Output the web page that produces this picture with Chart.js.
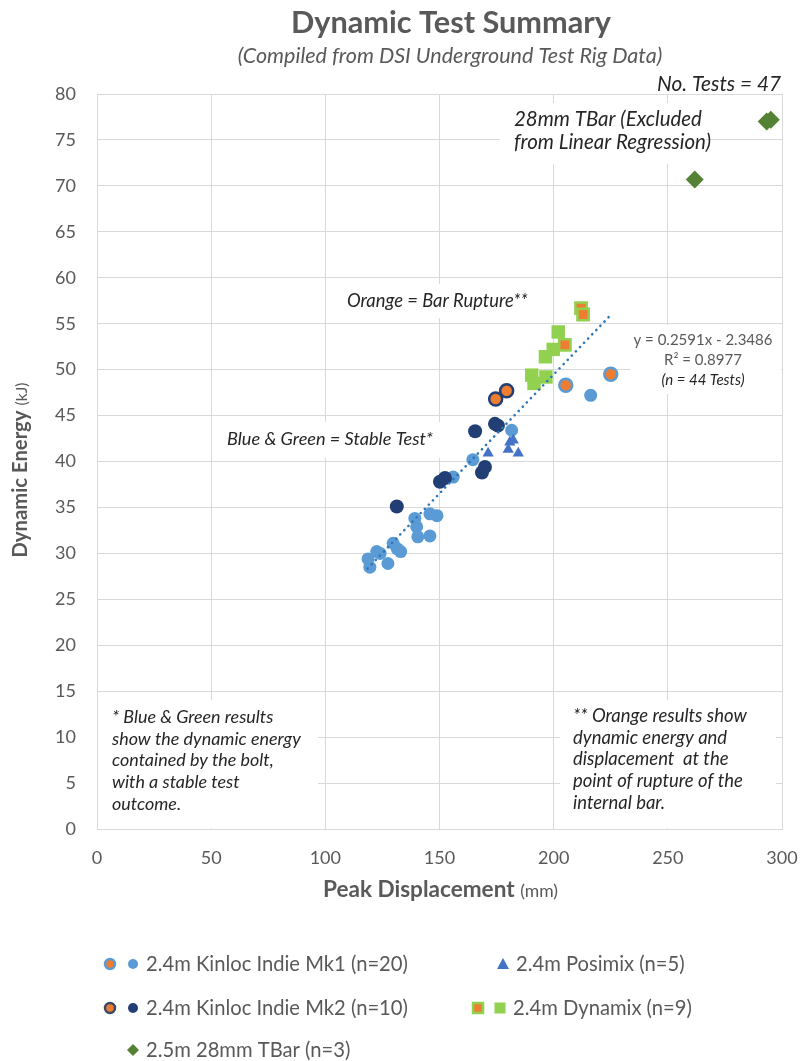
<!DOCTYPE html>
<html>
<head>
<meta charset="utf-8">
<script src="https://cdn.jsdelivr.net/npm/chart.js@4.4.1/dist/chart.umd.min.js"></script>
<style>
html, body { margin: 0; padding: 0; background: #fff; }
</style>
</head>
<body>
<canvas id="chartCanvas" width="802" height="1061"></canvas>
<script>
const FONT = 'Lato, "Open Sans", sans-serif';

// 2.4m Kinloc Indie Mk1 - stable
const mk1X = [118.7, 119.5, 122.5, 124, 127.4, 129.7, 131.5, 133, 139.2, 140, 140.5, 145.8, 145.8, 148.9, 156, 164.6, 181.6, 216.2];
const mk1Y = [29.4, 28.5, 30.2, 30.0, 28.9, 31.1, 30.5, 30.2, 33.8, 32.9, 31.8, 34.3, 31.9, 34.1, 38.3, 40.2, 43.4, 47.2];
// Mk1 - bar rupture
const mk1RupX = [205.3, 225];
const mk1RupY = [48.3, 49.5];
// 2.4m Kinloc Indie Mk2 - stable
const mk2X = [131.3, 150.2, 152.4, 168.6, 169.9, 165.6, 174.3, 175.6];
const mk2Y = [35.1, 37.8, 38.2, 38.8, 39.4, 43.3, 44.1, 43.9];
// Mk2 - bar rupture
const mk2RupX = [174.6, 179.4];
const mk2RupY = [46.8, 47.7];
// 2.4m Posimix
const posX = [171.3, 180.1, 180.8, 182.3, 184.5];
const posY = [40.9, 41.3, 42.1, 42.3, 40.9];
// 2.4m Dynamix - stable
const dynX = [202, 199.8, 196.4, 190.4, 191.4, 196.6];
const dynY = [54.1, 52.2, 51.4, 49.4, 48.5, 49.2];
// Dynamix - bar rupture
const dynRupX = [212, 212.9, 204.9];
const dynRupY = [56.7, 56.0, 52.7];
// 2.5m 28mm TBar
const tbarX = [261.8, 293.3, 295.1];
const tbarY = [70.7, 77.0, 77.2];
// linear regression line end points (y = 0.2591x - 2.3486)
const trendX = [118.5, 225];
const trendY = [28.35, 55.95];

const LIGHT = '#5B9BD5', DARK = '#213F75', ORANGE = '#ED7D31';
const TRI = '#4472C4', LIME = '#92D050', GREEN = '#548235';
const GREY = '#595959', INK = '#262626';

function pts(xs, ys) {
    return xs.map((x, i) => ({ x: x, y: ys[i] }));
}

function fontStr(style, weight, size) {
    return style + ' ' + weight + ' ' + size + 'px ' + FONT;
}

// font size that makes text span the wanted width
function fitSize(ctx, text, style, weight, width) {
    ctx.font = fontStr(style, weight, 20);
    return 20 * width / ctx.measureText(text).width;
}

function put(ctx, text, x, y, style, weight, size, color, align) {
    ctx.font = fontStr(style, weight, size);
    ctx.fillStyle = color;
    ctx.textAlign = align || 'left';
    ctx.textBaseline = 'alphabetic';
    ctx.fillText(text, x, y);
}

function box(ctx, x1, y1, x2, y2) {
    ctx.fillStyle = '#fff';
    ctx.fillRect(x1, y1, x2 - x1, y2 - y1);
}

function dot(ctx, x, y, r, fill, stroke, lw) {
    ctx.beginPath();
    ctx.arc(x, y, r, 0, Math.PI * 2);
    ctx.fillStyle = fill;
    ctx.fill();
    if (stroke) { ctx.lineWidth = lw; ctx.strokeStyle = stroke; ctx.stroke(); }
}

function square(ctx, x, y, h, fill, stroke, lw) {
    ctx.fillStyle = fill;
    ctx.fillRect(x - h, y - h, 2 * h, 2 * h);
    if (stroke) { ctx.lineWidth = lw; ctx.strokeStyle = stroke; ctx.strokeRect(x - h, y - h, 2 * h, 2 * h); }
}

function poly(ctx, coords, fill) {
    ctx.beginPath();
    ctx.moveTo(coords[0], coords[1]);
    for (let i = 2; i < coords.length; i += 2) ctx.lineTo(coords[i], coords[i + 1]);
    ctx.closePath();
    ctx.fillStyle = fill;
    ctx.fill();
}

const notes = {
    id: 'notes',
    beforeDatasetsDraw(chart) {
        const ctx = chart.ctx;
        ctx.save();
        box(ctx, 500, 103, 706, 164);
        box(ctx, 336, 284, 540, 318);
        box(ctx, 215, 422, 446, 458);
        box(ctx, 630, 325, 781, 394);
        box(ctx, 98, 700, 318, 828);
        box(ctx, 560, 700, 776, 828);

        let s = fitSize(ctx, '28mm TBar (Excluded', 'italic', 'normal', 188);
        put(ctx, '28mm TBar (Excluded', 514, 126, 'italic', 'normal', s, INK);
        put(ctx, 'from Linear Regression)', 514, 149, 'italic', 'normal', s, INK);

        s = fitSize(ctx, 'Orange = Bar Rupture**', 'italic', 'normal', 181);
        put(ctx, 'Orange = Bar Rupture**', 347, 307, 'italic', 'normal', s, INK);
        s = fitSize(ctx, 'Blue & Green = Stable Test*', 'italic', 'normal', 206);
        put(ctx, 'Blue & Green = Stable Test*', 227, 445, 'italic', 'normal', s, INK);

        s = fitSize(ctx, 'y = 0.2591x - 2.3486', 'normal', 'normal', 139);
        put(ctx, 'y = 0.2591x - 2.3486', 703, 345, 'normal', 'normal', s, GREY, 'center');
        put(ctx, 'R² = 0.8977', 703, 365, 'normal', 'normal', s, GREY, 'center');
        put(ctx, '(n = 44 Tests)', 703, 385, 'italic', 'normal', s, INK, 'center');

        const left = ['* Blue & Green results', 'show the dynamic energy', 'contained by the bolt,',
            'with a stable test', 'outcome.'];
        s = fitSize(ctx, left[1], 'italic', 'normal', 189);
        left.forEach((t, i) => put(ctx, t, 112, 723 + i * 21.7, 'italic', 'normal', s, INK));
        const right = ['** Orange results show', 'dynamic energy and', 'displacement  at the',
            'point of rupture of the', 'internal bar.'];
        s = fitSize(ctx, right[0], 'italic', 'normal', 174);
        right.forEach((t, i) => put(ctx, t, 573, 722 + i * 21.7, 'italic', 'normal', s, INK));
        ctx.restore();
    },
    afterDraw(chart) {
        const ctx = chart.ctx;
        ctx.save();
        let s = fitSize(ctx, 'Dynamic Test Summary', 'normal', 'bold', 320);
        put(ctx, 'Dynamic Test Summary', 451, 33, 'normal', 'bold', s, GREY, 'center');
        s = fitSize(ctx, '(Compiled from DSI Underground Test Rig Data)', 'italic', 'normal', 425);
        put(ctx, '(Compiled from DSI Underground Test Rig Data)', 450, 63, 'italic', 'normal', s, GREY, 'center');
        s = fitSize(ctx, 'No. Tests = 47', 'italic', 'normal', 124);
        put(ctx, 'No. Tests = 47', 781, 91, 'italic', 'normal', s, INK, 'right');

        // axis titles: bold name, smaller unit
        ctx.font = fontStr('normal', 'bold', 18);
        const w1 = ctx.measureText('Peak Displacement ').width;
        ctx.font = fontStr('normal', 'normal', 14);
        const w2 = ctx.measureText('(mm)').width;
        let k = 235 / (w1 + w2);
        put(ctx, 'Peak Displacement ', 323, 897, 'normal', 'bold', 18 * k, GREY);
        put(ctx, '(mm)', 323 + w1 * k, 897, 'normal', 'normal', 14 * k, GREY);

        ctx.font = fontStr('normal', 'bold', 18);
        const v1 = ctx.measureText('Dynamic Energy ').width;
        ctx.font = fontStr('normal', 'normal', 14);
        const v2 = ctx.measureText('(kJ)').width;
        k = 175 / (v1 + v2);
        ctx.translate(21, 470);
        ctx.rotate(-Math.PI / 2);
        put(ctx, 'Dynamic Energy ', -87.5, 6, 'normal', 'bold', 18 * k, GREY);
        put(ctx, '(kJ)', -87.5 + v1 * k, 6, 'normal', 'normal', 14 * k, GREY);
        ctx.setTransform(1, 0, 0, 1, 0, 0);

        // legend
        dot(ctx, 110, 964, 5, ORANGE, LIGHT, 2.5);
        dot(ctx, 133, 964, 5, LIGHT);
        dot(ctx, 110, 1008, 5, ORANGE, '#3A4A66', 2.5);
        dot(ctx, 133, 1008, 5, DARK);
        poly(ctx, [503, 958, 509, 969, 497, 969], TRI);
        square(ctx, 478, 1008, 5, ORANGE, LIME, 2.5);
        square(ctx, 500, 1008, 5.5, LIME);
        poly(ctx, [133, 1044, 139, 1050, 133, 1056, 127, 1050], GREEN);
        s = fitSize(ctx, '2.4m Kinloc Indie Mk1 (n=20)', 'normal', 'normal', 262);
        put(ctx, '2.4m Kinloc Indie Mk1 (n=20)', 146, 971, 'normal', 'normal', s, GREY);
        put(ctx, '2.4m Posimix (n=5)', 516, 971, 'normal', 'normal', s, GREY);
        put(ctx, '2.4m Kinloc Indie Mk2 (n=10)', 146, 1015, 'normal', 'normal', s, GREY);
        put(ctx, '2.4m Dynamix (n=9)', 513, 1015, 'normal', 'normal', s, GREY);
        put(ctx, '2.5m 28mm TBar (n=3)', 146, 1057, 'normal', 'normal', s, GREY);
        ctx.restore();
    }
};

const ctx = document.getElementById('chartCanvas').getContext('2d');

const chart = new Chart(ctx, {
    type: 'scatter',
    data: {
        datasets: [
            {
                label: 'Linear (regression)',
                data: pts(trendX, trendY),
                showLine: true,
                borderColor: '#2E75B6',
                borderWidth: 2.6,
                borderDash: [0.1, 5.8],
                borderCapStyle: 'round',
                pointRadius: 0,
                order: 0
            },
            { label: 'TBar', data: pts(tbarX, tbarY), pointStyle: 'rectRot', pointRadius: 9,
              backgroundColor: GREEN, borderColor: GREEN, borderWidth: 0, order: 1 },
            { label: 'Dynamix rupture', data: pts(dynRupX, dynRupY), pointStyle: 'rect', pointRadius: 8,
              backgroundColor: ORANGE, borderColor: LIME, borderWidth: 2.5, order: 2 },
            { label: 'Dynamix', data: pts(dynX, dynY), pointStyle: 'rect', pointRadius: 9.5,
              backgroundColor: LIME, borderColor: LIME, borderWidth: 0, order: 3 },
            { label: 'Posimix', data: pts(posX, posY), pointStyle: 'triangle', pointRadius: 6.5,
              backgroundColor: TRI, borderColor: TRI, borderWidth: 0, order: 4 },
            { label: 'Mk2 rupture', data: pts(mk2RupX, mk2RupY), pointRadius: 6.5,
              backgroundColor: ORANGE, borderColor: DARK, borderWidth: 2.5, order: 5 },
            { label: 'Mk2', data: pts(mk2X, mk2Y), pointRadius: 7,
              backgroundColor: DARK, borderColor: DARK, borderWidth: 0, order: 6 },
            { label: 'Mk1 rupture', data: pts(mk1RupX, mk1RupY), pointRadius: 6.5,
              backgroundColor: ORANGE, borderColor: LIGHT, borderWidth: 2.5, order: 7 },
            { label: 'Mk1', data: pts(mk1X, mk1Y), pointRadius: 6.5,
              backgroundColor: LIGHT, borderColor: LIGHT, borderWidth: 0, order: 8 }
        ]
    },
    options: {
        responsive: false,
        animation: false,
        devicePixelRatio: 1,
        clip: false,
        layout: { padding: { top: 94, right: 20, bottom: 172, left: 0 } },
        plugins: {
            legend: { display: false },
            tooltip: { enabled: false }
        },
        scales: {
            x: {
                type: 'linear',
                min: 0,
                max: 300,
                ticks: { stepSize: 50, color: GREY, font: { family: FONT, size: 18 }, padding: 18 },
                grid: { color: '#d9d9d9', drawTicks: false },
                border: { color: '#d9d9d9' },
                afterFit: s => { s.height = 60; s.paddingLeft = 0; s.paddingRight = 0; }
            },
            y: {
                min: 0,
                max: 80,
                ticks: { stepSize: 5, color: GREY, font: { family: FONT, size: 18 }, padding: 21 },
                grid: { color: '#d9d9d9', drawTicks: false },
                border: { color: '#d9d9d9' },
                afterFit: s => { s.width = 97; s.paddingTop = 0; s.paddingBottom = 0; }
            }
        }
    },
    plugins: [notes]
});
</script>
</body>
</html>
